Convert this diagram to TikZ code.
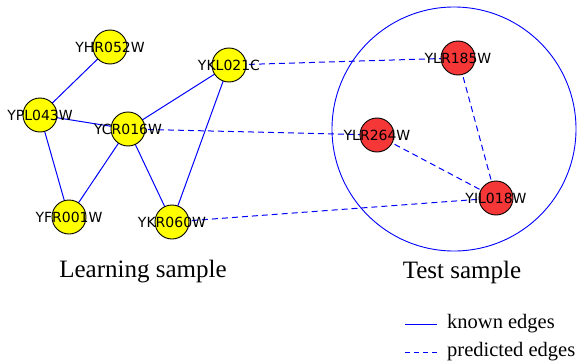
\documentclass[tikz,border=0pt]{standalone}
\usepackage{fontspec}
\setmainfont{Liberation Serif}
\newfontfamily\genefont{DejaVu Sans}
\usetikzlibrary{backgrounds}

\definecolor{learncol}{RGB}{255,255,0}
\definecolor{testcol}{RGB}{245,55,55}

\tikzset{
  gene/.style={circle, draw=black, line width=0.9pt, minimum size=34pt, inner sep=0pt},
  genetext/.style={font=\genefont\fontsize{14}{16}\selectfont, inner sep=0pt},
  known/.style={blue, line width=1pt},
  predicted/.style={blue, line width=1pt, dash pattern=on 6pt off 4pt}
}

\begin{document}
\begin{tikzpicture}[x=1pt, y=-1pt]
\useasboundingbox (0,0) rectangle (577,361);

% Test sample region
\node[circle, draw=blue, line width=0.9pt, minimum size=244pt] (testset) at (454,129) {};

% Learning sample genes
\foreach \name/\x/\y in {YHR052W/110/47, YKL021C/229/65, YPL043W/40/115,
                         YCR016W/128/129, YFR001W/69/217, YKR060W/172/222} {
  \node[gene, fill=learncol, label={[genetext]center:\name}] (\name) at (\x,\y) {};
}

% Test sample genes
\foreach \name/\x/\y in {YLR185W/458/58, YLR264W/377/135, YIL018W/496/198} {
  \node[gene, fill=testcol, label={[genetext]center:\name}] (\name) at (\x,\y) {};
}

% Edges behind the genes
\begin{scope}[on background layer]
  \foreach \a/\b in {YHR052W/YPL043W, YPL043W/YCR016W, YPL043W/YFR001W,
                     YCR016W/YFR001W, YCR016W/YKR060W, YCR016W/YKL021C, YKL021C/YKR060W}
    \draw[known] (\a.center) -- (\b.center);
  \foreach \a/\b in {YKL021C/YLR185W, YCR016W/YLR264W, YKR060W/YIL018W,
                     YLR185W/YIL018W, YLR264W/YIL018W}
    \draw[predicted] (\a.center) -- (\b.center);
\end{scope}

% Captions
\node[font=\fontsize{25}{28}\selectfont] (learncap) at (143,272) {Learning sample};
\node[font=\fontsize{25}{28}\selectfont] (testcap) at (462,272) {Test sample};

% Legend
\coordinate (k1) at (405,324);
\coordinate (k2) at (437,324);
\coordinate (p1) at (405,352);
\coordinate (p2) at (437,352);
\draw[known] (k1) -- (k2);
\draw[predicted, dash pattern=on 5pt off 4pt] (p1) -- (p2);
\node[anchor=west, font=\fontsize{20.5}{24}\selectfont, inner sep=0pt] (knownlab) at (447,324) {known edges};
\node[anchor=west, font=\fontsize{20.5}{24}\selectfont, inner sep=0pt] (predlab) at (447,352) {predicted edges};

\end{tikzpicture}
\end{document}
